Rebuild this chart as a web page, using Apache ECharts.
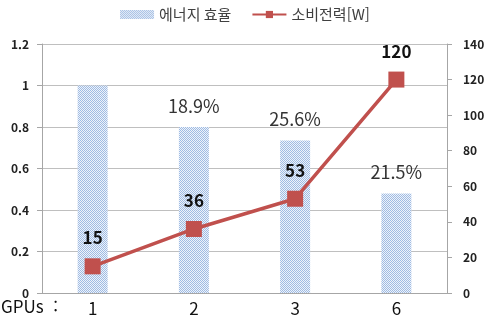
<!DOCTYPE html>
<html lang="ko">
<head>
    <meta charset="utf-8">
    <title>GPU 에너지 효율</title>
    <script src="https://cdn.jsdelivr.net/npm/echarts@6/dist/echarts.min.js"></script>
    <style type="text/css">
    body { margin: 0; background: #fff; }
    #chart { width: 490px; height: 321px; }
    </style>
</head>
<body>
    <div id="chart"></div>
    <script type="text/javascript">
    // 데이터
    var gpus = ['1', '2', '3', '6'];
    var efficiency = [1.0, 0.8, 0.735, 0.48];
    var efficiencyText = ['', '18.9%', '25.6%', '21.5%'];
    var power = [15, 36, 53, 120];
    var leftTicks = [0, 0.2, 0.4, 0.6, 0.8, 1, 1.2];
    var rightTicks = [0, 20, 40, 60, 80, 100, 120, 140];

    var font = '"Noto Sans CJK KR", "Noto Sans", sans-serif';

    // 점무늬 패턴
    var pat = document.createElement('canvas');
    pat.width = 2; pat.height = 2;
    var ctx = pat.getContext('2d');
    ctx.fillStyle = '#eef3fa';
    ctx.fillRect(0, 0, 2, 2);
    ctx.fillStyle = '#9fbbe3';
    ctx.fillRect(0, 0, 1, 1);
    ctx.fillRect(1, 1, 1, 1);

    var chart = echarts.init(document.getElementById('chart'), null, { renderer: 'canvas' });

    chart.setOption({
        animation: false,
        textStyle: { fontFamily: font },
        legend: {
            top: 2,
            left: 'center',
            itemGap: 20,
            itemWidth: 34,
            itemHeight: 9,
            textStyle: { fontSize: 15, color: '#404040', fontFamily: font },
            data: [
                { name: '에너지 효율', icon: 'rect' },
                { name: '소비전력[W]' }
            ]
        },
        grid: { left: 42, right: 43, top: 44, bottom: 28 },
        xAxis: {
            type: 'category',
            data: gpus,
            axisLine: { lineStyle: { color: '#a6a6a6' } },
            axisTick: { show: false },
            axisLabel: { fontSize: 17, color: '#111', margin: 7 }
        },
        yAxis: [
            {
                type: 'value',
                min: leftTicks[0],
                max: leftTicks[leftTicks.length - 1],
                interval: 0.2,
                axisLine: { show: true, lineStyle: { color: '#a6a6a6' } },
                axisTick: { show: true, length: 5, lineStyle: { color: '#a6a6a6' } },
                splitLine: { lineStyle: { color: '#bfbfbf' } },
                axisLabel: {
                    fontSize: 12, fontWeight: 'bold', color: '#222', margin: 13,
                    formatter: function (v) { return String(+v.toFixed(1)); }
                }
            },
            {
                type: 'value',
                min: rightTicks[0],
                max: rightTicks[rightTicks.length - 1],
                interval: 20,
                position: 'right',
                axisLine: { show: true, lineStyle: { color: '#a6a6a6' } },
                axisTick: { show: true, length: 5, lineStyle: { color: '#a6a6a6' } },
                splitLine: { show: false },
                axisLabel: { fontSize: 12, fontWeight: 'bold', color: '#222', margin: 16 }
            }
        ],
        graphic: [{
            type: 'text',
            left: 1,
            top: 298,
            style: { text: 'GPUs  :', fontSize: 17, fill: '#111', fontFamily: font }
        }],
        series: [
            {
                name: '에너지 효율',
                type: 'bar',
                yAxisIndex: 0,
                barWidth: 30,
                data: efficiency,
                itemStyle: { color: { image: pat, repeat: 'repeat' } },
                label: {
                    show: true,
                    position: 'top',
                    distance: 12,
                    fontSize: 18,
                    color: '#333',
                    formatter: function (p) { return efficiencyText[p.dataIndex]; }
                }
            },
            {
                name: '소비전력[W]',
                type: 'line',
                yAxisIndex: 1,
                data: power,
                symbol: 'rect',
                symbolSize: 16,
                lineStyle: { color: '#c0504d', width: 3.5 },
                itemStyle: { color: '#c0504d' },
                label: {
                    show: true,
                    position: 'top',
                    distance: 12,
                    fontSize: 17,
                    fontWeight: 'bold',
                    color: '#111'
                }
            }
        ]
    });
    </script>
</body>
</html>
